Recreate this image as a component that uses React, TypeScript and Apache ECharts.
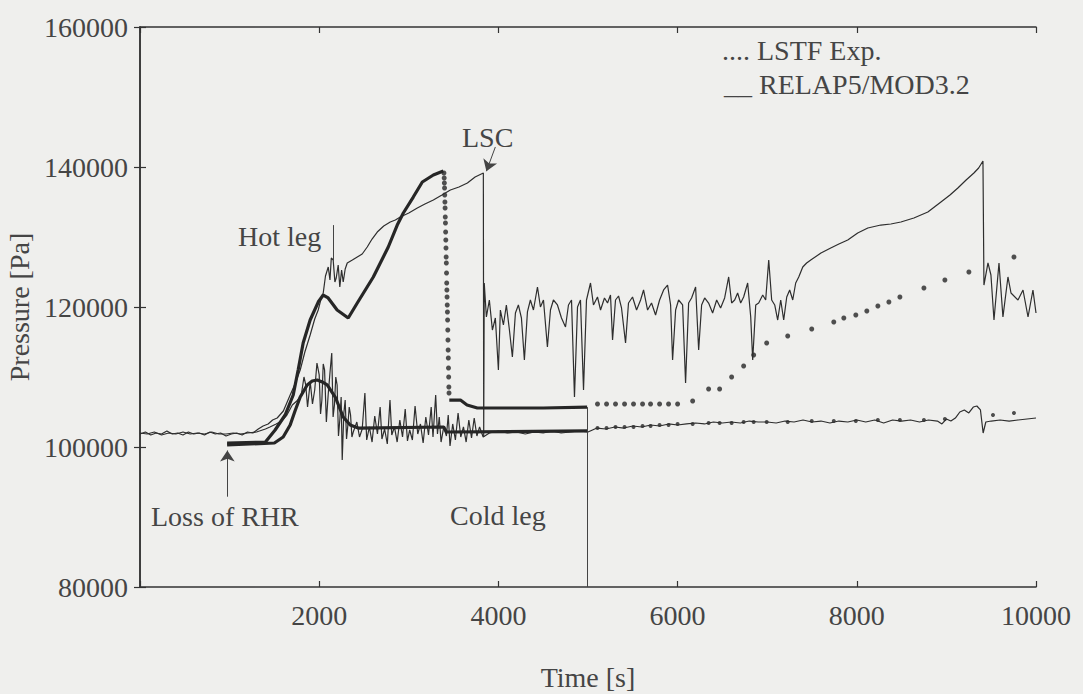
import React, { useEffect, useRef } from "react";
import * as echarts from "echarts";

// ---------- data (time [s], pressure [Pa]) ----------
const xTicks = [0, 2000, 4000, 6000, 8000, 10000];
const yTicks = [80000, 100000, 120000, 140000, 160000];

// LSTF experiment, hot leg
const expHot: number[][] = [
  [0,101860],[60,102140],[120,101710],[180,102000],[240,101860],[300,102290],[360,101860],[420,102000],
  [480,101710],[540,102140],[600,101860],[660,102000],[720,101710],[780,102140],[840,101860],[900,102000],
  [960,101570],[1020,101860],[1080,102000],[1140,101710],[1200,102140],[1260,102000],[1320,102570],[1374,103000],
  [1430,103290],[1480,103860],[1531,104140],[1600,105140],[1676,107430],[1730,109000],[1788,111000],[1840,113570],
  [1899,116000],[1950,118290],[1989,119570],[2020,121140],[2045,122000],[2070,124430],[2101,125710],[2120,123860],
  [2135,127000],[2156,126710],[2175,123570],[2190,124140],[2212,126000],[2230,122860],[2250,125290],[2268,123570],
  [2290,125430],[2313,126290],[2370,126710],[2425,127140],[2480,127570],[2536,128570],[2590,129710],[2648,130710],
  [2720,131570],[2793,132140],[2850,132430],[2905,132860],[3000,133430],[3095,134140],[3180,134710],[3274,135290],
  [3370,136000],[3464,136710],[3560,137140],[3654,137710],[3740,138570],[3832,139140],[3836,101430],[3842,123430],
  [3866,118570],[3899,121000],[3933,116710],[3966,118430],[4000,111000],[4022,119570],[4056,117430],[4089,120290],
  [4123,116710],[4156,112860],[4190,119140],[4223,120290],[4257,118430],[4290,112430],[4324,119290],[4357,121000],
  [4391,119570],[4436,122860],[4469,120000],[4503,121000],[4547,114290],[4581,119570],[4614,121000],[4659,120290],
  [4704,118430],[4749,117140],[4782,120290],[4816,121000],[4849,107140],[4883,120000],[4916,121000],[4950,108140],
  [4983,121000],[5028,123430],[5061,120290],[5106,121430],[5140,119570],[5184,121290],[5218,120570],[5251,121710],
  [5274,115290],[5307,121000],[5341,121570],[5374,119860],[5419,114860],[5452,120570],[5497,121430],[5542,119570],
  [5587,121000],[5620,122430],[5665,119570],[5709,120570],[5754,118860],[5799,121000],[5844,122430],[5888,123140],
  [5922,120290],[5944,112430],[5978,119570],[6011,121000],[6056,120290],[6089,109140],[6123,120570],[6156,121290],
  [6201,122860],[6235,113860],[6268,120290],[6302,121290],[6346,120570],[6391,119140],[6436,121000],[6480,119860],
  [6525,121290],[6570,124290],[6603,120570],[6637,121000],[6670,122000],[6704,120570],[6737,121430],[6782,123430],
  [6816,118570],[6838,112430],[6872,120290],[6905,120570],[6950,121710],[6983,121000],[7017,126710],[7050,121000],
  [7084,120290],[7117,118140],[7151,121000],[7184,118140],[7218,121430],[7251,122430],[7285,121000],[7318,123430],
  [7352,124290],[7397,125710],[7440,126290],[7486,126710],[7600,127710],[7709,128430],[7800,129000],[7899,129570],
  [8010,130570],[8123,131290],[8268,131710],[8380,131860],[8492,132140],[8637,132710],[8793,133570],[8939,135000],
  [9040,136000],[9128,137000],[9220,138140],[9307,139140],[9360,139860],[9408,140860],[9419,123140],[9464,126290],
  [9497,124570],[9531,118140],[9587,126290],[9631,118570],[9687,124290],[9721,122000],[9799,121000],[9855,122430],
  [9911,118570],[9966,122430],[10000,119140]
];

// LSTF experiment, cold leg
const expCold: number[][] = [
  [0,102000],[80,101860],[160,102140],[240,101710],[320,102000],[400,101860],[480,102140],[560,101860],
  [640,102000],[720,101860],[800,102140],[880,101860],[960,101860],[1040,102000],[1120,101860],[1200,102000],
  [1300,102140],[1400,102570],[1450,102860],[1520,103290],[1580,103710],[1640,104570],[1700,106000],[1750,106570],
  [1800,107430],[1830,110000],[1850,108860],[1870,105710],[1900,109290],[1925,106140],[1950,108140],[1975,112000],
  [2000,110290],[2015,104710],[2030,106710],[2045,111860],[2060,111000],[2080,103570],[2100,107430],[2120,110570],
  [2140,113430],[2155,104290],[2170,106000],[2185,110000],[2200,108860],[2215,101570],[2230,103860],[2245,107140],
  [2257,98140],[2275,104860],[2290,106710],[2305,101140],[2320,103140],[2335,105710],[2350,104570],[2365,101430],
  [2380,102140],[2420,103570],[2450,101430],[2480,102570],[2510,107710],[2530,101000],[2560,102860],[2590,100710],
  [2620,104430],[2650,101860],[2680,105710],[2700,101140],[2730,102570],[2760,100430],[2790,106710],[2810,101710],
  [2840,102860],[2870,100710],[2900,103860],[2930,101430],[2960,105430],[2985,100860],[3010,102430],[3040,101000],
  [3070,105860],[3100,101860],[3130,103290],[3160,100570],[3190,104290],[3220,101710],[3250,105710],[3270,101430],
  [3300,107430],[3320,101860],[3340,104290],[3360,100710],[3390,102860],[3420,101570],[3440,104570],[3460,100140],
  [3490,103290],[3520,101000],[3550,104860],[3580,101430],[3610,102860],[3640,100710],[3670,103860],[3700,101290],
  [3730,104140],[3760,101570],[3790,102860],[3830,101430],[3900,102000],[4000,102290],[4100,102000],[4200,102140],
  [4300,101860],[4400,102140],[4500,102000],[4600,102290],[4700,102000],[4800,102140],[4900,102290],[5000,102140],
  [5100,102710],[5200,102570],[5300,102860],[5400,102710],[5500,103000],[5600,102860],[5700,103140],[5800,103000],
  [5900,103290],[6000,103140],[6100,103290],[6200,103430],[6300,103290],[6400,103570],[6500,103430],[6600,103570],
  [6700,103430],[6800,103710],[6900,103570],[7000,103570],[7100,103430],[7200,103710],[7300,103570],[7400,103860],
  [7500,103570],[7600,103710],[7700,103430],[7800,103710],[7900,103570],[8000,103860],[8100,103570],[8200,103860],
  [8300,103430],[8400,103860],[8500,103710],[8600,103860],[8700,103570],[8800,103860],[8900,103710],[8950,103290],
  [9000,104000],[9050,103710],[9100,104140],[9150,105000],[9200,105290],[9250,104860],[9300,105710],[9340,105860],
  [9380,105290],[9410,102000],[9440,103570],[9500,103710],[9600,103860],[9700,103710],[9800,103860],[9900,104000],
  [10000,104140]
];

// RELAP5/MOD3.2, hot leg
const calcHotA: number[][] = [
  [972,100570],[1400,100710],[1508,102430],[1620,104570],[1710,107430],[1765,111000],[1821,114860],[1899,118140],
  [1989,120710],[2045,121710],[2100,121290],[2200,119570],[2324,118430],[2425,120570],[2604,124290],[2771,128570],
  [2871,131710],[2939,133430],[3050,135710],[3151,137860],[3274,138860],[3385,139430]
];
const calcHotDrop: number[][] = [
  [3392,139140],[3395,138430],[3397,137710],[3399,137000],[3401,136000],[3403,135000],[3405,134140],[3407,132860],
  [3409,132000],[3411,130710],[3413,129570],[3415,128430],[3417,127140],[3419,126290],[3421,124860],[3423,123430],
  [3425,122430],[3427,121430],[3429,120290],[3431,119290],[3433,118140],[3435,116710],[3437,115290],[3439,113860],
  [3441,112710],[3443,111290],[3445,110000],[3447,108570],[3449,107710]
];
const calcHotB: number[][] = [
  [3452,106710],[3576,106710],[3650,106000],[3765,105570],[4500,105570],[4990,105710]
];
const calcHotLate: number[][] = [
  [5106,106140],[5207,106140],[5307,106140],[5408,106140],[5508,106140],[5609,106140],[5698,106140],[5799,106140],
  [5899,106140],[6000,106140],[6168,106570],[6346,108290],[6469,108290],[6603,110000],[6737,111570],[6849,113140],
  [6994,114860],[7229,115860],[7497,116860],[7743,117860],[7855,118430],[7989,118860],[8112,119430],[8235,120140],
  [8358,120710],[8481,121430],[8749,122710],[8983,123860],[9251,125000],[9754,127140]
];

// RELAP5/MOD3.2, cold leg
const calcCold: number[][] = [
  [972,100290],[1500,100570],[1598,101430],[1676,103140],[1730,105140],[1788,107140],[1866,108860],[1922,109430],
  [1978,109570],[2034,109290],[2089,108860],[2179,107140],[2268,104290],[2346,103140],[2436,102710],[3390,102860],
  [3420,102140],[4990,102290]
];
const calcColdLate: number[][] = [
  [5106,102710],[5207,102710],[5307,102860],[5408,102860],[5508,102860],[5609,103000],[5698,103000],[5799,103140],
  [5899,103140],[6000,103290],[6168,103290],[6346,103430],[6469,103430],[6603,103430],[6737,103570],[6849,103570],
  [6994,103570],[7229,103570],[7497,103710],[7743,103710],[7989,103710],[8235,103860],[8481,103860],[8749,103860],
  [8983,104000],[9520,104570],[9754,104860]
];

// annotation pointers
const hotLegPointer = [[2160, 131700], [2160, 126500]];
const lscArrow = [[3966, 142860], [3866, 139400]];
const rhrArrow = [[975, 92900], [975, 99500]];
const coldLegLine = [[4994, 105700], [4994, 80000]];

const FONT = "'Liberation Serif', 'DejaVu Serif', serif";
const INK = "#2e2e2e";
const TXT = "#454545";
const BG = "#efefed";

export default function App() {
  const ref = useRef<HTMLDivElement>(null);
  useEffect(() => {
    if (!ref.current) return;
    const chart = echarts.init(ref.current, undefined, { renderer: "svg" });
    const axisLine = { show: true, lineStyle: { color: "#333", width: 1.5 } };
    const tick = { show: true, inside: true, length: 6, lineStyle: { color: "#333", width: 1.2 } };
    const mk = (pts: number[][], endSym: string) => [
      { coord: pts[0], symbol: "none" },
      { coord: pts[1], symbol: endSym },
    ];
    chart.setOption({
      animation: false,
      backgroundColor: BG,
      grid: { left: 140, right: 47, top: 27, bottom: 107, containLabel: false, outerBoundsMode: "none" },
      xAxis: [
        {
          type: "value", min: xTicks[0], max: xTicks[xTicks.length - 1], interval: 2000,
          axisLine, axisTick: tick, splitLine: { show: false },
          axisLabel: { fontFamily: FONT, fontSize: 28, color: TXT, margin: 14,
            formatter: (v: number) => (v === 0 ? "" : String(v)) },
          name: "Time [s]", nameLocation: "middle", nameGap: 76,
          nameTextStyle: { fontFamily: FONT, fontSize: 28, color: TXT },
        },
        {
          type: "value", position: "top", min: 0, max: 10000, interval: 2000,
          axisLine, axisTick: tick, axisLabel: { show: false }, splitLine: { show: false },
        },
      ],
      yAxis: [
        {
          type: "value", min: yTicks[0], max: yTicks[yTicks.length - 1], interval: 20000,
          axisLine, axisTick: tick, splitLine: { show: false },
          axisLabel: { fontFamily: FONT, fontSize: 28, color: TXT, margin: 12,
            formatter: (v: number) => String(v) },
          name: "Pressure [Pa]", nameLocation: "middle", nameGap: 104,
          nameTextStyle: { fontFamily: FONT, fontSize: 28, color: TXT },
        },
        {
          type: "value", position: "right", min: 80000, max: 160000, interval: 20000,
          axisLine, axisTick: tick, axisLabel: { show: false }, splitLine: { show: false },
        },
      ],
      series: [
        {
          name: "LSTF Exp. hot leg", type: "line", data: expHot, showSymbol: false, symbol: "none",
          lineStyle: { color: INK, width: 1.2 },
          markLine: {
            silent: true, symbolSize: 11, label: { show: false },
            lineStyle: { color: "#444", width: 1, type: "solid" },
            data: [mk(hotLegPointer, "none"), mk(lscArrow, "arrow"), mk(rhrArrow, "arrow"), mk(coldLegLine, "none")],
          },
        },
        { name: "LSTF Exp. cold leg", type: "line", data: expCold, symbol: "none", lineStyle: { color: INK, width: 1.2 } },
        { name: "RELAP5 hot leg", type: "line", data: calcHotA, symbol: "none", lineStyle: { color: "#262626", width: 3.2 } },
        { name: "RELAP5 hot leg drop", type: "scatter", data: calcHotDrop, symbolSize: 5, itemStyle: { color: "#262626" } },
        { name: "RELAP5 hot leg 2", type: "line", data: calcHotB, symbol: "none", lineStyle: { color: "#262626", width: 3.2 } },
        { name: "RELAP5 hot leg late", type: "scatter", data: calcHotLate, symbolSize: 5, itemStyle: { color: "#262626" } },
        { name: "RELAP5 cold leg", type: "line", data: calcCold, symbol: "none", lineStyle: { color: "#262626", width: 3.2 } },
        { name: "RELAP5 cold leg late", type: "scatter", data: calcColdLate, symbolSize: 4, itemStyle: { color: "#262626" } },
      ],
      graphic: [
        { type: "text", left: 722, top: 36, style: { text: ".... LSTF Exp.", font: `28px ${FONT}`, fill: TXT } },
        { type: "text", left: 724, top: 70, style: { text: "__ RELAP5/MOD3.2", font: `28px ${FONT}`, fill: TXT } },
        { type: "text", left: 238, top: 222, style: { text: "Hot leg", font: `28px ${FONT}`, fill: TXT } },
        { type: "text", left: 462, top: 123, style: { text: "LSC", font: `28px ${FONT}`, fill: TXT } },
        { type: "text", left: 151, top: 502, style: { text: "Loss of RHR", font: `28px ${FONT}`, fill: TXT } },
        { type: "text", left: 450, top: 501, style: { text: "Cold leg", font: `28px ${FONT}`, fill: TXT } },
      ],
    });
    return () => chart.dispose();
  }, []);
  return (
    <div style={{ position: "fixed", left: 0, top: 0, width: 1083, height: 694, background: BG }}>
      <div ref={ref} style={{ width: 1083, height: 694 }} />
    </div>
  );
}
